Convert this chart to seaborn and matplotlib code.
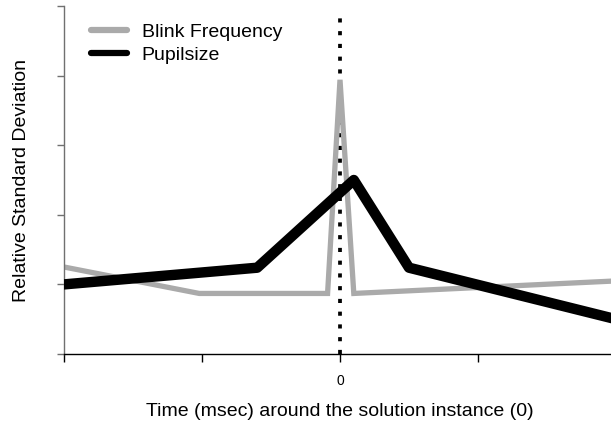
import matplotlib
matplotlib.use("Agg")
import matplotlib.pyplot as plt
import seaborn as sns
import pandas as pd
from matplotlib.lines import Line2D

sns.set_theme(style="white")
plt.rcParams['font.family'] = ['Liberation Sans', 'DejaVu Sans']
plt.rcParams['text.color'] = 'black'
plt.rcParams['axes.labelcolor'] = 'black'
plt.rcParams['xtick.color'] = 'black'

# Data (time in msec around solution instance, relative SD)
blink_time = [-1000, -510, -45, 0, 50, 1000]
blink_rsd = [1.25, 0.87, 0.87, 3.94, 0.87, 1.05]
pupil_time = [-1000, -300, 50, 250, 1000]
pupil_rsd = [1.0, 1.24, 2.5, 1.24, 0.5]
series_names = ["Blink Frequency", "Pupilsize"]
x_ticks = [-1000, -500, 0, 500, 1000]
x_ticklabels = ["", "", "0", "", ""]
y_ticks = [0, 1, 2, 3, 4, 5]

blink_df = pd.DataFrame({"time": blink_time, "rsd": blink_rsd})
pupil_df = pd.DataFrame({"time": pupil_time, "rsd": pupil_rsd})

fig = plt.figure(figsize=(6.11, 4.23), dpi=100)
W, H = 611, 423
ax = fig.add_axes([64 / W, 1 - 354 / H, 552 / W, 348 / H])

ax.axvline(0, ymax=0.985, color="black", lw=2.7, linestyle=(0, (1.1, 2.3)), zorder=1)

sns.lineplot(data=blink_df, x="time", y="rsd", ax=ax, color="#aaaaaa", lw=3.8,
             sort=False, estimator=None, solid_capstyle="butt",
             solid_joinstyle="miter", zorder=2)
sns.lineplot(data=pupil_df, x="time", y="rsd", ax=ax, color="black", lw=7.5,
             sort=False, estimator=None, solid_capstyle="round",
             solid_joinstyle="round", zorder=3)

ax.set_xlim(-1000, 1000)
ax.set_ylim(0, 5)
ax.set_xticks(x_ticks)
ax.set_xticklabels(x_ticklabels)
ax.set_yticks(y_ticks)
ax.set_yticklabels([])

for s in ["top", "right"]:
    ax.spines[s].set_visible(False)
ax.spines["left"].set_color("#707070")
ax.spines["left"].set_linewidth(1.0)
ax.spines["bottom"].set_color("black")
ax.spines["bottom"].set_linewidth(1.0)

ax.tick_params(axis="y", direction="out", length=5.2, width=1.0, color="#707070", left=True)
ax.tick_params(axis="x", direction="out", length=5.8, width=1.0, color="black",
               labelcolor="black", bottom=True, labelsize=10, pad=8.5)

ax.set_xlabel("Time (msec) around the solution instance (0)", fontsize=14, labelpad=11,
              color="black")
ax.set_ylabel("Relative Standard Deviation", fontsize=14, labelpad=16, color="black")

handles = [Line2D([0], [0], color="#aaaaaa", lw=4.5, solid_capstyle="round"),
           Line2D([0], [0], color="black", lw=4.5, solid_capstyle="round")]
leg = ax.legend(handles, series_names, loc="upper left", bbox_to_anchor=(0.035, 0.972),
                frameon=False, fontsize=14, handlelength=1.85, handletextpad=0.75,
                labelspacing=0.25, borderaxespad=0)
for t in leg.get_texts():
    t.set_color("black")

fig.savefig("out.png", dpi=100)
